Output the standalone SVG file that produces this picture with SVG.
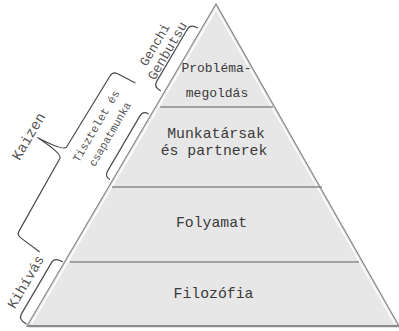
<svg xmlns="http://www.w3.org/2000/svg" width="399" height="331" viewBox="0 0 399 331">
<style>
.lvl{font-family:"Liberation Mono","Courier New",monospace;fill:#3a3a3a;text-anchor:middle}
.side{font-family:"Liberation Mono","Courier New",monospace;fill:#555;text-anchor:middle}
.br{fill:none;stroke:#4a4a4a;stroke-width:1.2;stroke-linecap:round;stroke-linejoin:round}
.div{stroke:#8a8a8a;stroke-width:1.5}
</style>
<rect width="399" height="331" fill="#fff"/>
<g id="pyramid">
<polygon points="217.5,5.5 28.5,327.5 400,327.5" fill="#c8c8c8"/>
<polygon points="216,4 27,326 399,326" fill="#e7e7e7" stroke="#8c8c8c" stroke-width="1.3"/>
<polyline points="31.4,323.5 216,9 394.7,323.5" fill="none" stroke="#fff" stroke-width="1.5"/>
<line x1="27" y1="326" x2="399" y2="326" stroke="#8c8c8c" stroke-width="2"/>
</g>
<g id="levels">
<line class="div" x1="160" y1="107" x2="273" y2="107"/>
<line class="div" x1="112" y1="187" x2="322" y2="187"/>
<line class="div" x1="70" y1="262" x2="359" y2="262"/>
</g>
<g id="node-problema">
<text class="lvl" x="216.5" y="72" font-size="13">Probléma-</text>
<text class="lvl" x="217" y="96.7" font-size="13">megoldás</text>
</g>
<g id="node-munkatarsak">
<text class="lvl" x="216" y="138.3" font-size="14.8">Munkatársak</text>
<text class="lvl" x="214" y="155" font-size="14.8">és partnerek</text>
</g>
<g id="node-folyamat">
<text class="lvl" x="211.5" y="227" font-size="14.8">Folyamat</text>
</g>
<g id="node-filozofia">
<text class="lvl" x="213.5" y="298" font-size="14.8">Filozófia</text>
</g>
<g id="connectors" transform="translate(216,4) rotate(-59.6)">
<path class="br" d="M -103 -4 C -103 -9 -101 -12 -97 -12 L -36 -12 C -32 -12 -30 -9 -30 -4"/>
<path class="br" d="M -205 -3 C -205 -7 -203 -9 -199 -9 L -135 -9 C -131 -9 -129 -7 -129 -3"/>
<path class="br" d="M -372 -2 C -372 -8 -370 -11 -366 -11 L -306 -11 C -302 -11 -300 -8 -300 -2"/>
<path class="br" d="M -109 -30 L -110 -50 Q -110.5 -55 -116 -55 L -199 -56.5 Q -204 -57 -205.5 -86 Q -207 -57 -212 -56.5 L -295 -55 Q -300 -55 -300.5 -50 L -303 -27"/>
</g>
<g id="labels" transform="translate(216,4) rotate(-59.6)">
<g id="label-genchi"><text class="side" x="-66" y="-28" font-size="13">Genchi</text></g>
<g id="label-genbutsu"><text class="side" x="-65" y="-14" font-size="13.5">Genbutsu</text></g>
<g id="label-tisztelet"><text class="side" x="-166" y="-38" font-size="11.3">Tisztelet és</text>
<text class="side" x="-166" y="-22" font-size="11">csapatmunka</text></g>
<g id="label-kaizen"><text class="side" x="-209" y="-90" font-size="14.5">Kaizen</text></g>
<g id="label-kihivas"><text class="side" x="-336" y="-19" font-size="14">Kihívás</text></g>
</g>
</svg>
